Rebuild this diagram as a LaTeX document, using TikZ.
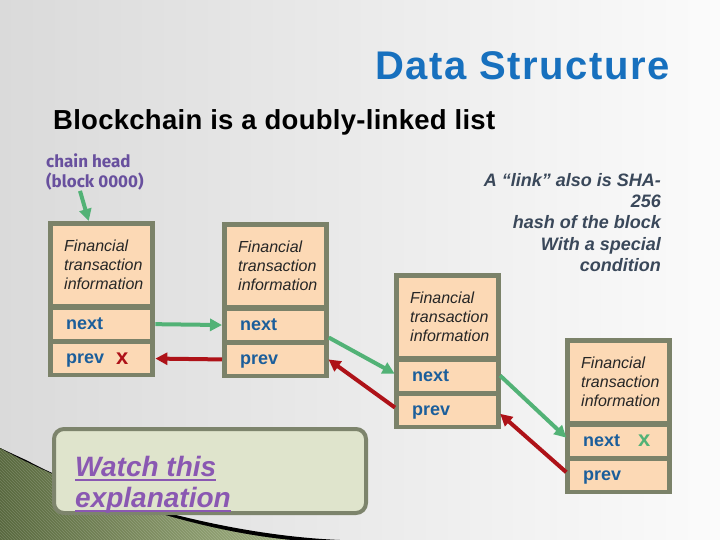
\documentclass[tikz,border=0pt]{standalone}
\usepackage{fontspec}
\setmainfont{Liberation Sans}
\newfontfamily\headfont{Fira Sans}
\usetikzlibrary{arrows.meta,patterns}
\definecolor{bgl}{RGB}{218,218,218}
\definecolor{bgr}{RGB}{251,251,251}
\definecolor{gdark}{RGB}{88,104,62}
\definecolor{glight}{RGB}{160,176,128}
\definecolor{framec}{RGB}{123,130,105}
\definecolor{peach}{RGB}{252,217,181}
\definecolor{fieldblue}{RGB}{27,94,155}
\definecolor{titleblue}{RGB}{23,112,190}
\definecolor{annotc}{RGB}{58,72,90}
\definecolor{garrow}{RGB}{82,178,118}
\definecolor{rarrow}{RGB}{174,18,24}
\definecolor{headpurple}{RGB}{104,80,158}
\definecolor{watchpurple}{RGB}{138,88,178}
\definecolor{watchfill}{RGB}{223,228,204}
\definecolor{watchborder}{RGB}{125,132,108}
\newcommand\wul[1]{\setbox0=\hbox{#1}\leavevmode\rlap{\copy0}\vrule height -2.5pt depth 4.8pt width \wd0\relax}
\tikzset{
  frame/.style={fill=framec, draw=none, minimum width=107pt, minimum height=156pt, inner sep=0pt, anchor=north west},
  cellA/.style={fill=peach, draw=none, minimum width=97pt, minimum height=78pt, inner sep=0pt, anchor=north west},
  cellB/.style={fill=peach, draw=none, minimum width=97pt, minimum height=29pt, inner sep=0pt, anchor=north west},
  infotxt/.style={anchor=west, align=left, inner sep=0pt, text=black!85, font=\fontsize{16}{19}\selectfont\itshape},
  fieldtxt/.style={anchor=base west, inner sep=0pt, text=fieldblue, font=\fontsize{18}{20}\selectfont\bfseries},
  gar/.style={draw=garrow, line width=4pt, -{Triangle[length=12pt,width=12pt]}, shorten <=5pt, shorten >=5pt},
  rar/.style={draw=rarrow, line width=4pt, -{Triangle[length=12pt,width=12pt]}, shorten <=5pt, shorten >=5pt},
  crossmark/.style={anchor=base, inner sep=0pt, font=\fontsize{22}{22}\selectfont\bfseries},
}
\newcommand\blk[2]{%
  \node[frame] (#1) at (#2) {};
  \node[cellA] (#1i) at ([shift={(5,5)}]#1.north west) {};
  \node[cellB] (#1n) at ([shift={(0,5)}]#1i.south west) {};
  \node[cellB] (#1p) at ([shift={(0,5)}]#1n.south west) {};
  \node[infotxt] (#1it) at ([xshift=11pt]#1i.west) {Financial\\transaction\\information};
  \node[fieldtxt] (#1nt) at ([shift={(13,5)}]#1n.west) {next};
  \node[fieldtxt] (#1pt) at ([shift={(13,5)}]#1p.west) {prev};
}
\begin{document}
\begin{tikzpicture}[x=1pt,y=-1pt]
\useasboundingbox (0,0) rectangle (720,540);
\fill[left color=bgl, right color=bgr] (0,0) rectangle (720,540);
% decorative swoosh
\fill[left color=gdark, right color=glight] (0,448) .. controls (55,478) and (170,528) .. (292,540) -- (0,540) -- cycle;
\fill[pattern=north west lines, pattern color=white, opacity=0.18] (0,448) .. controls (55,478) and (170,528) .. (292,540) -- (0,540) -- cycle;
\fill[black] (28,461) .. controls (90,495) and (220,535) .. (340,540) -- (292,540) .. controls (170,528) and (55,478) .. (0,448) -- cycle;
% titles
\node[anchor=base west, inner sep=0pt, text=titleblue, font=\fontsize{40}{44}\selectfont\bfseries\addfontfeature{LetterSpace=4}] (title) at (375,80) {Data Structure};
\node[anchor=base west, inner sep=0pt, text=black, font=\fontsize{27.5}{30}\selectfont\bfseries\addfontfeature{LetterSpace=1}] (sub) at (53,130) {Blockchain is a doubly-linked list};
\node[anchor=north west, align=left, inner sep=0pt, text=headpurple, font=\headfont\fontsize{17}{20}\selectfont\bfseries] (head) at (46,154) {chain head\\(block 0000)};
\node[anchor=north east, align=right, inner sep=0pt, text=annotc, font=\fontsize{18}{21.3}\selectfont\bfseries\itshape] (ann) at (661,173) {A “link” also is SHA-\\256\\hash of the block\\With a special\\condition};
% blocks
\blk{b1}{48,221}
\blk{b2}{222,222}
\blk{b3}{394,273}
\blk{b4}{565,338}
\node[crossmark, text=rarrow] (x1) at ([shift={(20.5,5.5)}]b1p.center) {x};
\node[crossmark, text=garrow] (x4) at ([shift={(25.5,5.5)}]b4n.center) {x};
% connectors
\draw[gar, shorten <=0pt, shorten >=0pt] ([xshift=34pt]head.south west) -- ([xshift=-13pt]b1.north);
\draw[gar] (b1n.east) -- (b2n.west);
\draw[rar] (b2p.west) -- (b1p.east);
\draw[gar] ([yshift=-10pt]b2n.east) -- (b3n.west);
\draw[rar] (b3p.west) -- ([yshift=3pt]b2p.east);
\draw[gar] ([yshift=4pt]b3n.east) -- (b4n.west);
\draw[rar] (b4p.west) -- (b3p.east);
% watch box
\node[anchor=north west, minimum width=312pt, minimum height=84pt, rounded corners=10pt, draw=watchborder, line width=4pt, fill=watchfill, inner sep=0pt] (wb) at (52,427) {};
\node[anchor=north west, align=left, inner sep=0pt, text=watchpurple, font=\fontsize{28}{31}\selectfont\bfseries\itshape] (wt) at (75,456) {\wul{Watch this}\\\wul{explanation}};
\end{tikzpicture}
\end{document}
